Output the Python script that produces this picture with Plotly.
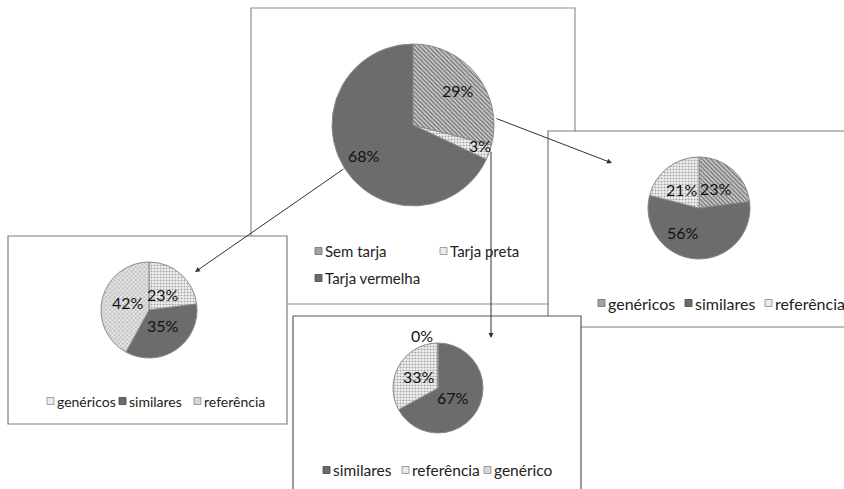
import math
import plotly.graph_objects as go

W, H = 844, 489

# ---- data -------------------------------------------------------------
main_labels = ["Sem tarja", "Tarja preta", "Tarja vermelha"]
main_values = [29, 3, 68]

right_labels = ["genéricos", "similares", "referência"]
right_values = [23, 56, 21]

left_labels = ["genéricos", "similares", "referência"]
left_values = [23, 35, 42]

bottom_labels = ["similares", "referência", "genérico"]
bottom_values = [67, 33, 0]

# ---- styling ----------------------------------------------------------
FONT = "Lato, 'Open Sans', sans-serif"
DARK = "#6c6c6c"
STYLES = {
    "hatch": dict(color="#a3a3a3", shape="\\", fg="#6c6c6c", bg="#cbcbcb", line="#6a6a6a"),
    "dots": dict(color="#ebebeb", shape=".", fg="#a6a6a6", bg="#f4f4f4", line="#8a8a8a"),
    "cross": dict(color="#d6d6d6", shape="x", fg="#b2b2b2", bg="#e4e4e4", line="#8a8a8a"),
    "solid": dict(color=DARK, shape="", fg=DARK, bg=DARK, line="#444444"),
}


def px(x):
    return x / W


def py(y):
    return 1 - y / H


pies = [
    dict(labels=main_labels, values=main_values, styles=["hatch", "dots", "solid"],
         center=(413, 125), radius=81,
         label_r=[0.70, 0.86, 0.71], label_da=[0, -3, 0],
         legend=[(315, 251), (440, 251), (315, 278)], legend_font=15),
    dict(labels=right_labels, values=right_values, styles=["hatch", "solid", "dots"],
         center=(699, 208), radius=51,
         label_r=[0.50, 0.57, 0.49], label_da=[0, 30, -4],
         legend=[(598, 303), (685, 303), (765, 303)], legend_font=16),
    dict(labels=left_labels, values=left_values, styles=["dots", "solid", "cross"],
         center=(149, 310), radius=48,
         label_r=[0.43, 0.44, 0.47], label_da=[0, -8, 6],
         legend=[(47, 401), (119, 401), (194, 401)], legend_font=14),
    dict(labels=bottom_labels, values=bottom_values, styles=["solid", "dots", "cross"],
         center=(438, 388), radius=45,
         label_r=[0.40, 0.50, 1.22], label_da=[0, 0, -17],
         legend=[(323, 470), (402, 470), (484, 470)], legend_font=15.5),
]

# frames: x0, y0, x1, y1, edge colour (later frames sit on top)
frames = [
    (251, 8, 575, 304, "#8f8f8f"),
    (8, 236, 287, 424, "#7c7c7c"),
    (548, 131, 852, 327, "#7c7c7c"),
    (293, 316, 581, 496, "#5a5a5a"),
]

# arrows: tail -> head
arrows = [
    ((345, 168), (195, 272)),
    ((495, 118), (612, 163)),
    ((491, 150), (491, 338)),
]

fig = go.Figure()
shapes = []
annotations = []

for x0, y0, x1, y1, col in frames:
    shapes.append(dict(type="rect", xref="paper", yref="paper",
                       x0=px(x0), x1=px(x1), y0=py(y1), y1=py(y0),
                       fillcolor="white", line=dict(color=col, width=1.2),
                       layer="below"))

for p in pies:
    cx, cy = p["center"]
    r = p["radius"]
    st = [STYLES[s] for s in p["styles"]]
    fig.add_trace(go.Pie(
        labels=p["labels"], values=p["values"],
        sort=False, direction="clockwise", rotation=0,
        textinfo="none", showlegend=False,
        domain=dict(x=[px(cx - r), px(cx + r)], y=[py(cy + r), py(cy - r)]),
        marker=dict(
            colors=[s["color"] for s in st],
            line=dict(color="#8a8a8a", width=1),
            pattern=dict(shape=[s["shape"] for s in st],
                         fgcolor=[s["fg"] for s in st],
                         bgcolor=[s["bg"] for s in st],
                         fillmode="replace", size=3, solidity=0.4),
        ),
    ))

    # percentage labels, placed along each slice's mid-angle
    total = sum(p["values"])
    cum = 0
    for v, f, da in zip(p["values"], p["label_r"], p["label_da"]):
        a = math.radians(360 * (cum + v / 2) / total + da)
        lx = cx + f * r * math.sin(a)
        ly = cy - f * r * math.cos(a)
        annotations.append(dict(x=px(lx), y=py(ly), xref="paper", yref="paper",
                                text=f"{round(100 * v / total)}%", showarrow=False,
                                xanchor="center", yanchor="middle",
                                font=dict(family=FONT, size=16, color="#111111")))
        cum += v

    # legend swatches and names
    for (lx, ly), name, s in zip(p["legend"], p["labels"], st):
        shapes.append(dict(type="rect", xref="paper", yref="paper",
                           x0=px(lx), x1=px(lx + 7), y0=py(ly + 3.5), y1=py(ly - 3.5),
                           fillcolor=s["color"], line=dict(color=s["line"], width=0.8),
                           layer="above"))
        annotations.append(dict(x=px(lx + 8), y=py(ly), xref="paper", yref="paper",
                                text=name, showarrow=False,
                                xanchor="left", yanchor="middle",
                                font=dict(family=FONT, size=p["legend_font"], color="#222222")))

for (tx, ty), (hx, hy) in arrows:
    annotations.append(dict(x=px(hx), y=py(hy), xref="paper", yref="paper",
                            ax=tx - hx, ay=ty - hy, axref="pixel", ayref="pixel",
                            text="", showarrow=True, arrowhead=2, arrowsize=1,
                            arrowwidth=1, arrowcolor="#333333",
                            standoff=0, startstandoff=0))

fig.update_layout(
    width=W, height=H,
    margin=dict(l=0, r=0, t=0, b=0),
    paper_bgcolor="white", plot_bgcolor="white",
    showlegend=False,
    shapes=shapes, annotations=annotations,
    font=dict(family=FONT),
)

fig.write_html("out.html")
